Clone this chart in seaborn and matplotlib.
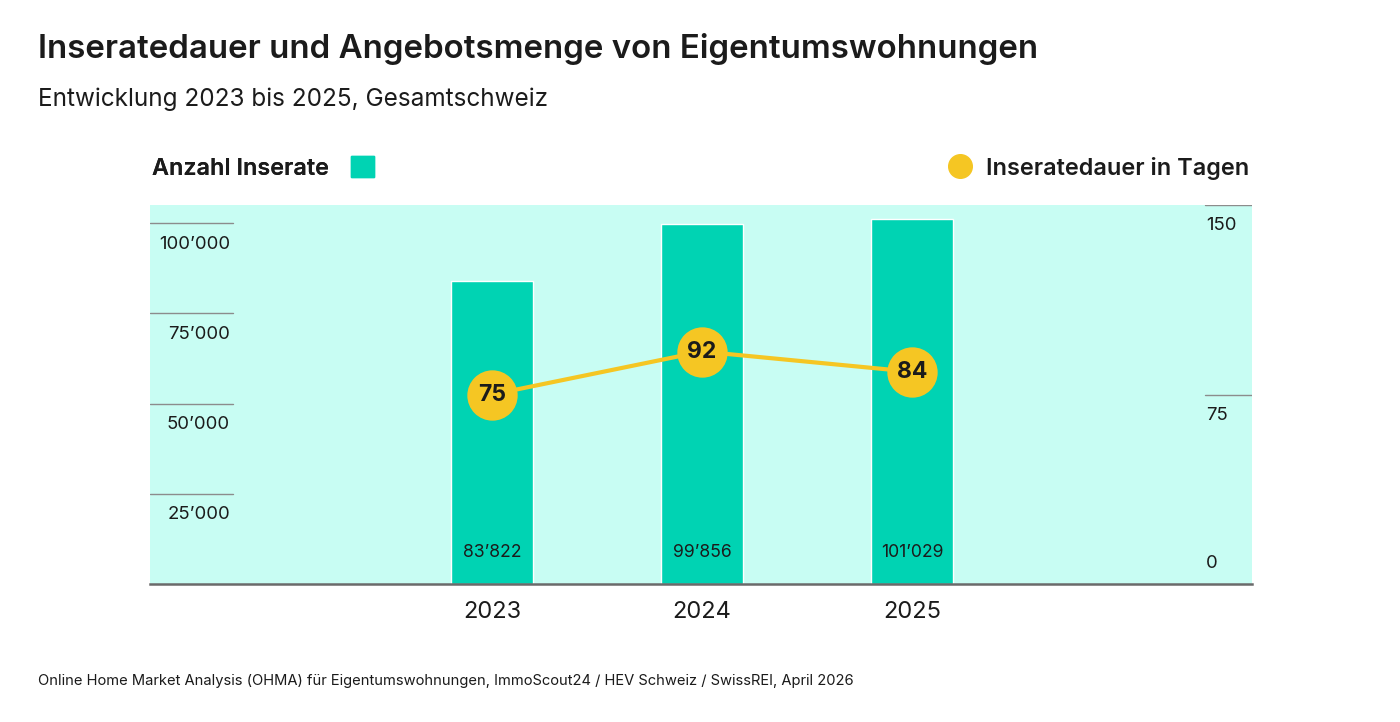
import numpy as np
import pandas as pd
import seaborn as sns
import matplotlib.pyplot as plt
from matplotlib.patches import Patch
from matplotlib.lines import Line2D

years = ['2023', '2024', '2025']
listings = [83822, 99856, 101029]
days = [75, 92, 84]

left_ticks = [25000, 50000, 75000, 100000]
right_ticks = [0, 75, 150]

TEAL = '#00D3B3'
MINT = '#C8FDF3'
YELLOW = '#F5C623'
TXT = '#1b1b1b'


def fmt(v):
    return f'{v:,}'.replace(',', '\u2019')


def main() -> None:
    sns.set_theme(style='white')
    plt.rcParams['font.family'] = ['Inter', 'DejaVu Sans']
    plt.rcParams['text.color'] = TXT

    df = pd.DataFrame({'year': years, 'listings': listings, 'days': days})

    fig = plt.figure(figsize=(14, 7.22), dpi=100)
    ax = fig.add_axes([0.1071, 0.1911, 0.7872, 0.525])
    ax.set_facecolor(MINT)

    sns.barplot(data=df, x='year', y='listings', color=TEAL, width=0.39,
                saturation=1, ax=ax, zorder=2)
    ax.set_ylim(0, 105000)
    ax.set_xlim(-1.63, 3.62)
    ax.set_xlabel('')
    ax.set_ylabel('')
    ax.set_yticks([])
    ax.tick_params(axis='x', length=0, pad=12, labelsize=17, labelcolor=TXT)
    for s in ['top', 'left', 'right']:
        ax.spines[s].set_visible(False)
    ax.spines['bottom'].set_color('#6a6a6a')
    ax.spines['bottom'].set_linewidth(1.8)
    ax.spines['bottom'].set_zorder(5)

    # value labels at the foot of the bars
    for i, v in enumerate(listings):
        ax.annotate(fmt(v), xy=(i, 0), xytext=(0, 23), textcoords='offset points',
                    ha='center', va='center', fontsize=12.7, color=TXT, zorder=4)

    # left axis: short lines with labels underneath
    for t in left_ticks:
        ax.axhline(t, xmin=0, xmax=0.075, color='#8c8c8c', lw=1, zorder=1)
        ax.annotate(fmt(t), xy=(0.0726, t), xycoords=ax.get_yaxis_transform(),
                    xytext=(0, -9), textcoords='offset points',
                    ha='right', va='top', fontsize=13.4, color=TXT)

    ax2 = ax.twinx()
    sns.pointplot(data=df, x='year', y='days', color=YELLOW, markersize=34,
                  linewidth=3, ax=ax2, zorder=3)
    ax2.set_ylim(0, 150)
    ax2.set_xlim(-1.63, 3.62)
    ax2.set_yticks([])
    ax2.set_ylabel('')
    ax2.set_xlabel('')
    for s in ax2.spines.values():
        s.set_visible(False)
    for i, v in enumerate(days):
        ax2.text(i, v, str(v), ha='center', va='center', fontsize=16.5,
                 fontweight='bold', color=TXT, zorder=6)

    # right axis
    for t in right_ticks:
        if t > 0:
            ax2.axhline(t, xmin=0.957, xmax=1, color='#8c8c8c', lw=1, zorder=1)
            ax2.annotate(str(t), xy=(0.958, t), xycoords=ax2.get_yaxis_transform(),
                         xytext=(0, -9), textcoords='offset points',
                         ha='left', va='top', fontsize=13.4, color=TXT)
        else:
            ax2.annotate(str(t), xy=(0.958, t), xycoords=ax2.get_yaxis_transform(),
                         xytext=(0, 9), textcoords='offset points',
                         ha='left', va='bottom', fontsize=13.4, color=TXT)

    # legends above the plot
    leg1 = ax.legend(handles=[Patch(color=TEAL, label='Anzahl Inserate')],
                     loc='lower left', bbox_to_anchor=(-0.007, 1.042), frameon=False,
                     markerfirst=False, handlelength=1.0, handleheight=1.0,
                     handletextpad=0.95, borderaxespad=0,
                     prop={'size': 16.8, 'weight': 'semibold'})
    ax.add_artist(leg1)
    ax2.legend(handles=[Line2D([], [], marker='o', ls='', color=YELLOW,
                               markersize=17, label='Inseratedauer in Tagen')],
               loc='lower right', bbox_to_anchor=(1.006, 1.042), frameon=False,
               handlelength=1.0, handletextpad=0.6, borderaxespad=0,
               prop={'size': 16.9, 'weight': 'semibold'})

    fig.text(0.027, 0.932, 'Inseratedauer und Angebotsmenge von Eigentumswohnungen',
             fontsize=23.8, fontweight='semibold', va='center', ha='left')
    fig.text(0.027, 0.862, 'Entwicklung 2023 bis 2025, Gesamtschweiz',
             fontsize=17.5, va='center', ha='left')
    fig.text(0.027, 0.057, 'Online Home Market Analysis (OHMA) f\u00fcr Eigentumswohnungen, '
             'ImmoScout24 / HEV Schweiz / SwissREI, April 2026',
             fontsize=10.6, va='center', ha='left')

    fig.savefig('out.png', dpi=100, facecolor='white')


if __name__ == '__main__':
    main()
